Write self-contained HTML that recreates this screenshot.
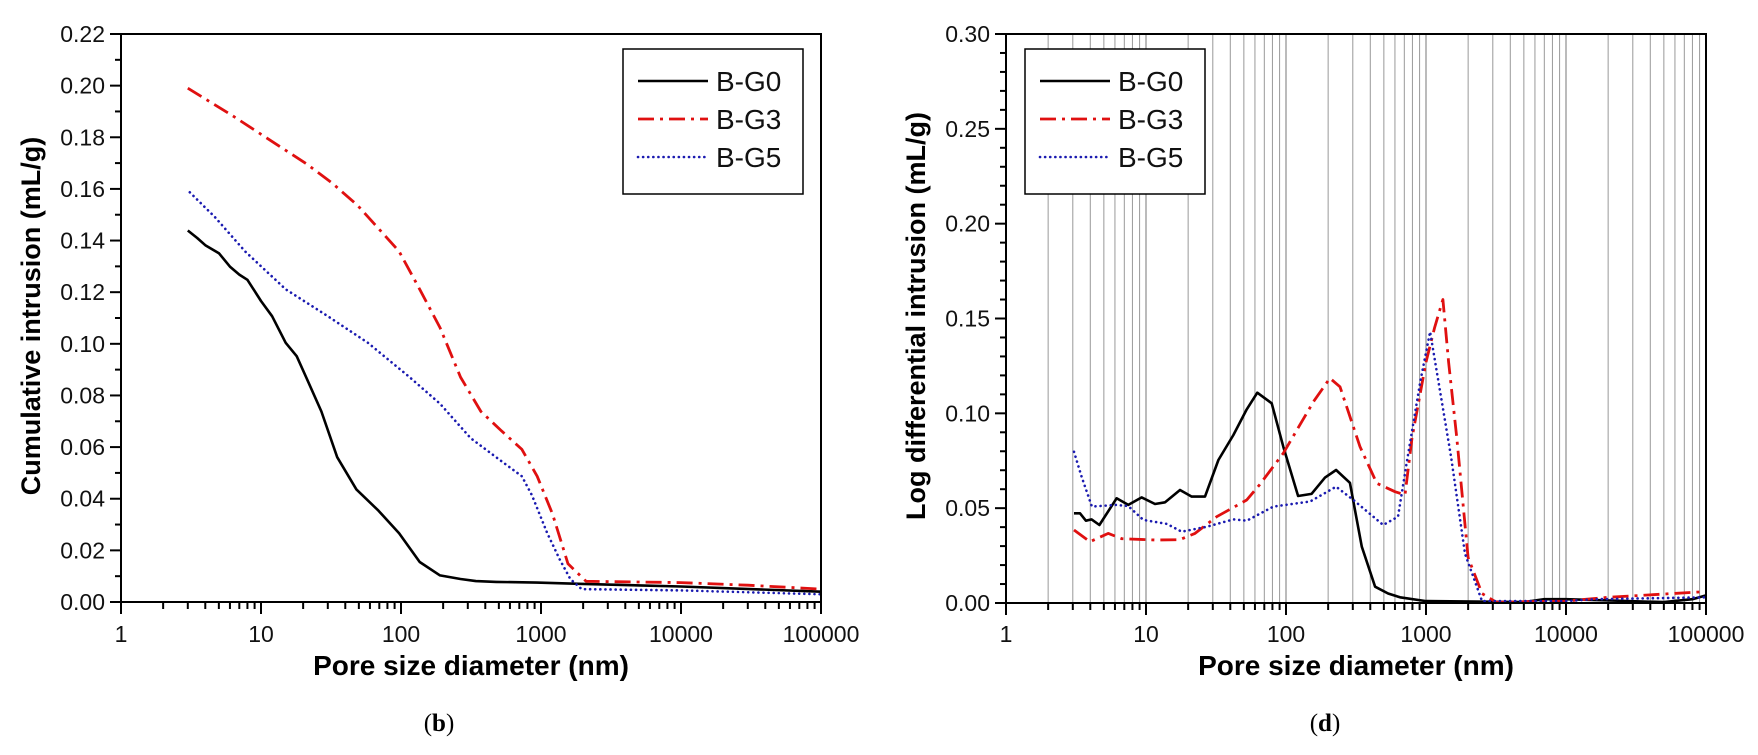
<!DOCTYPE html>
<html><head><meta charset="utf-8"><style>
html,body{margin:0;padding:0;background:#fff;}
svg{display:block;font-family:"Liberation Sans",Arial,sans-serif;}
</style></head><body>
<svg id="fig" width="1758" height="755" viewBox="0 0 1758 755" xmlns="http://www.w3.org/2000/svg"></svg>
<script>
// ---- Chart (b): cumulative intrusion ----
const bG0X = [3,3.5,4,5,6,7,8,10,12,15,18,21,27,35,48,69,97,136,190,266,342,479,933,2000,10000,100000];
const bG0Y = [0.1439,0.141,0.1382,0.1351,0.1299,0.1268,0.1248,0.1166,0.1107,0.1004,0.0952,0.0871,0.0738,0.0561,0.0436,0.0354,0.0266,0.0155,0.0103,0.0089,0.0081,0.0078,0.0075,0.007,0.006,0.004];
const bG3X = [3,6,10.8,21,32,49,69,97,136,190,266,372,520,730,940,1210,1560,2100,10000,30000,100000];
const bG3Y = [0.199,0.189,0.18,0.1698,0.1624,0.1536,0.1447,0.1358,0.1211,0.1063,0.0871,0.0738,0.0664,0.0591,0.0487,0.034,0.0148,0.008,0.0075,0.0065,0.005];
const bG5X = [3.1,4.7,7.7,15,30,58,115,190,314,520,730,863,1110,1370,1620,1950,10000,100000];
const bG5Y = [0.1587,0.149,0.1358,0.1211,0.1107,0.1004,0.0871,0.0768,0.0635,0.0546,0.0487,0.0413,0.0266,0.0162,0.0089,0.005,0.0045,0.003];
const bYTicks = [0,0.02,0.04,0.06,0.08,0.10,0.12,0.14,0.16,0.18,0.20,0.22];
const bYLabels = ["0.00","0.02","0.04","0.06","0.08","0.10","0.12","0.14","0.16","0.18","0.20","0.22"];
const xTickVals = [1,10,100,1000,10000,100000];
const xTickLabels = ["1","10","100","1000","10000","100000"];
// ---- Chart (d): log differential intrusion ----
const dG0X = [3.06,3.38,3.72,4.09,4.65,6.17,7.48,9.31,11.6,13.7,17.5,21.2,26.4,32.9,42.1,52.4,62.4,79.1,95.7,122,152,190,228,286,348,433,536,652,1000,5000,7000,10000,50000,80000,100000];
const dG0Y = [0.0473,0.0473,0.0434,0.0441,0.0411,0.0552,0.0517,0.0557,0.0522,0.0531,0.0596,0.0561,0.0561,0.0754,0.0886,0.1021,0.1109,0.1053,0.0824,0.0564,0.0575,0.0661,0.0701,0.0634,0.0297,0.0086,0.005,0.003,0.001,0.0005,0.002,0.002,0.0005,0.002,0.004];
const dG3X = [3.06,3.98,5.38,6.7,11.7,17.4,22.4,32,52.4,64.6,95.5,157,206,243,338,445,601,708,794,1000,1150,1320,1450,1660,2000,2510,3160,10000,20000,100000];
const dG3Y = [0.0385,0.0323,0.0367,0.0339,0.0332,0.0334,0.0367,0.0455,0.0543,0.0622,0.0789,0.1061,0.1185,0.114,0.0824,0.0631,0.0587,0.057,0.087,0.127,0.145,0.16,0.127,0.087,0.024,0.005,0.0005,0.001,0.003,0.006];
const dG5X = [3.06,3.47,4.11,6.11,7.48,9.57,14.1,18,27.1,42.1,52.4,81.3,149,228,303,495,631,724,912,1070,1510,1900,2510,10000,16000,100000];
const dG5Y = [0.0797,0.0666,0.0508,0.0517,0.0511,0.0438,0.0417,0.0376,0.0402,0.0441,0.0434,0.0508,0.0535,0.0613,0.0543,0.0411,0.0455,0.073,0.117,0.143,0.077,0.026,0.001,0.001,0.002,0.003];
const dYTicks = [0,0.05,0.10,0.15,0.20,0.25,0.30];
const dYLabels = ["0.00","0.05","0.10","0.15","0.20","0.25","0.30"];

const NS = "http://www.w3.org/2000/svg";
const svg = document.getElementById('fig');
function mk(tag, attrs, parent, text){
  const e = document.createElementNS(NS, tag);
  for (const k in attrs) e.setAttribute(k, attrs[k]);
  if (text !== undefined) e.textContent = text;
  (parent||svg).appendChild(e);
  return e;
}
const styles = {
  g0: {stroke:"#000", "stroke-width":2.6, fill:"none"},
  g3: {stroke:"#e01010", "stroke-width":2.8, fill:"none", "stroke-dasharray":"16 6 3 6"},
  g5: {stroke:"#1a1ab0", "stroke-width":2.6, fill:"none", "stroke-dasharray":"0.1 5", "stroke-linecap":"round"}
};

function drawChart(cfg){
  const g = mk('g', {});
  
  
  const L=cfg.left, R=cfg.left+700, T=34, B=cfg.bottom;
  const xs = v => L + Math.log10(v)*140;
  const ys = v => B - v/cfg.ymax*(B-T);
  if (cfg.grid){
    const gg = mk('g', {}, g);
    
    
    for (let d=0; d<5; d++) for (let m=2; m<=10; m++){
      const v = Math.pow(10,d)*m; const x = xs(v);
      mk('line',{x1:x,x2:x,y1:T,y2:B,stroke:(m===10?"#777":"#999"),"stroke-width":1},gg);
    }
  }
  cfg.series.forEach(s=>{
    const pts = s.x.map((xv,i)=>xs(xv).toFixed(1)+","+ys(s.y[i]).toFixed(1)).join(" ");
    const p = mk('polyline', Object.assign({points:pts,"stroke-linejoin":"round"}, styles[s.key]), g);
    
    
  });
  const fr = mk('path',{d:`M${L},${T}H${R}V${B}H${L}Z`,fill:"none",stroke:"#000","stroke-width":2},g);
  
  
  const ya = mk('g',{},g);
  
  
  const nMinor = Math.round(cfg.ymax/cfg.minor);
  for (let i=0;i<=nMinor;i++){
    const y = ys(i*cfg.minor);
    const major = (i % cfg.minorPer)===0;
    mk('line',{x1:L-(major?11:6),x2:L,y1:y,y2:y,stroke:"#000","stroke-width":2},ya);
  }
  cfg.yTicks.forEach((v,i)=>{
    const t = mk('text',{x:L-16,y:ys(v)+8,"text-anchor":"end","font-size":23,fill:"#111"},ya,cfg.yLabels[i]);
    
    
  });
  const yt = mk('text',{x:0,y:0,"text-anchor":"middle","font-size":27,"font-weight":"bold",transform:`translate(${cfg.ytX},316) rotate(-90)`},ya,cfg.ytitle);
  
  
  const xa = mk('g',{},g);
  
  
  for (let d=0; d<5; d++) for (let m=1; m<10; m++){
    const x = xs(Math.pow(10,d)*m);
    mk('line',{x1:x,x2:x,y1:B,y2:B+(m===1?12:7),stroke:"#000","stroke-width":2},xa);
  }
  mk('line',{x1:R,x2:R,y1:B,y2:B+12,stroke:"#000","stroke-width":2},xa);
  xTickVals.forEach((v,i)=>{
    const t = mk('text',{x:xs(v),y:642,"text-anchor":"middle","font-size":23,fill:"#111"},xa,xTickLabels[i]);
    
    
  });
  const xt = mk('text',{x:(L+R)/2,y:675,"text-anchor":"middle","font-size":28,"font-weight":"bold"},xa,"Pore size diameter (nm)");
  
  
  const lg = mk('g',{},g);
  
  
  mk('rect',{x:cfg.leg.x,y:49,width:cfg.leg.w,height:145,fill:"#fff",stroke:"#000","stroke-width":1.5},lg);
  cfg.series.forEach((s,i)=>{
    const y = [81,119,157][i];
    const e = mk('g',{},lg);
    
    
    mk('line',Object.assign({x1:cfg.leg.x+15,x2:cfg.leg.x+85,y1:y,y2:y},styles[s.key]),e);
    mk('text',{x:cfg.leg.x+93,y:y+10,"font-size":28,fill:"#111"},e,s.label);
  });
  const cap = mk('text',{x:cfg.capX,y:731,"text-anchor":"middle","font-size":25,"font-family":"'Liberation Serif',serif"},g);
  
  
  mk('tspan',{},cap,"(");
  mk('tspan',{"font-weight":"bold"},cap,cfg.cap);
  mk('tspan',{},cap,")");
}

drawChart({name:'chart-cumulative-intrusion',left:121,bottom:602,ymax:0.22,minor:0.01,minorPer:2,
  yTicks:bYTicks,yLabels:bYLabels,ytitle:"Cumulative intrusion (mL/g)",ytX:40,grid:false,
  leg:{x:623,w:180},capX:439,cap:"b",
  series:[{key:'g0',label:'B-G0',x:bG0X,y:bG0Y},{key:'g3',label:'B-G3',x:bG3X,y:bG3Y},{key:'g5',label:'B-G5',x:bG5X,y:bG5Y}]});
drawChart({name:'chart-log-differential-intrusion',left:1006,bottom:603,ymax:0.30,minor:0.01,minorPer:5,
  yTicks:dYTicks,yLabels:dYLabels,ytitle:"Log differential intrusion (mL/g)",ytX:925,grid:true,
  leg:{x:1025,w:180},capX:1325,cap:"d",
  series:[{key:'g0',label:'B-G0',x:dG0X,y:dG0Y},{key:'g3',label:'B-G3',x:dG3X,y:dG3Y},{key:'g5',label:'B-G5',x:dG5X,y:dG5Y}]});
</script>
</body></html>
